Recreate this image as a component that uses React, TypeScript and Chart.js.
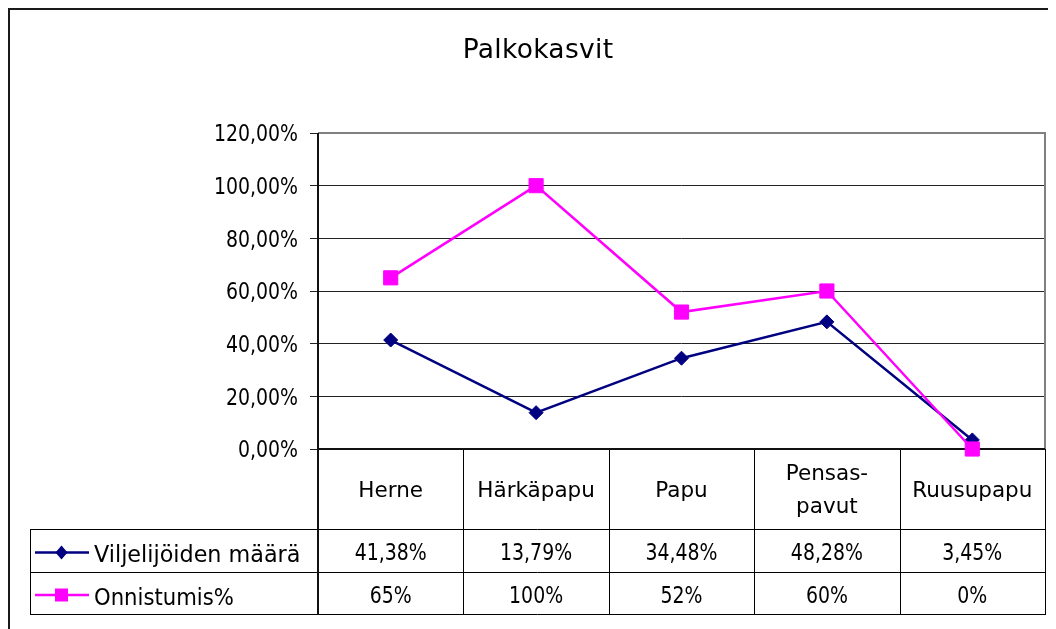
import React, { useEffect, useRef } from 'react';
import { Chart, registerables } from 'chart.js';

Chart.register(...registerables);

const chartTitle = 'Palkokasvit';
const categories: string[][] = [['Herne'], ['Härkäpapu'], ['Papu'], ['Pensas-', 'pavut'], ['Ruusupapu']];
const seriesNames = ['Viljelijöiden määrä', 'Onnistumis%'];
const viljelijat = [41.38, 13.79, 34.48, 48.28, 3.45];
const onnistumis = [65, 100, 52, 60, 0];
const yMin = 0;
const yMax = 120;
const yStep = 20;

const NAVY = '#000080';
const MAGENTA = '#FF00FF';
const FONT = '"DejaVu Sans", sans-serif';
const DIGIT_SX = 0.84;

const fmt2 = (v: number) => v.toFixed(2).replace('.', ',') + '%';
const fmt0 = (v: number) => Math.round(v) + '%';

function drawText(
  ctx: CanvasRenderingContext2D,
  text: string,
  x: number,
  y: number,
  size: number,
  align: CanvasTextAlign,
  sx = 1,
  spacing = 0
) {
  ctx.save();
  ctx.font = `${size}px ${FONT}`;
  (ctx as any).letterSpacing = spacing + 'px';
  ctx.textAlign = align;
  ctx.textBaseline = 'alphabetic';
  ctx.fillStyle = '#000';
  ctx.translate(x, y);
  ctx.scale(sx, 1);
  ctx.fillText(text, 0, 0);
  ctx.restore();
}

function drawDiamond(ctx: CanvasRenderingContext2D, x: number, y: number, w: number, h: number, color: string) {
  ctx.fillStyle = color;
  ctx.beginPath();
  ctx.moveTo(x, y - h / 2);
  ctx.lineTo(x + w / 2, y);
  ctx.lineTo(x, y + h / 2);
  ctx.lineTo(x - w / 2, y);
  ctx.closePath();
  ctx.fill();
}

const tablePlugin = {
  id: 'excelTable',
  beforeDatasetsDraw(chart: any) {
    const ctx: CanvasRenderingContext2D = chart.ctx;
    const ca = chart.chartArea;
    const xs = chart.scales.x;
    const ys = chart.scales.y;
    const L = ca.left, R = ca.right, T = ca.top, B = ca.bottom;
    const step = xs.getPixelForValue(1) - xs.getPixelForValue(0);
    const catBottom = B + 79.5;
    const row1Bottom = B + 122.5;
    const row2Bottom = B + 165;
    const legendLeft = 22;

    ctx.save();
    // outer chart border (left & top visible)
    ctx.strokeStyle = '#1a1a1a';
    ctx.lineWidth = 2;
    ctx.beginPath();
    ctx.moveTo(1, chart.height);
    ctx.lineTo(1, 1);
    ctx.lineTo(chart.width, 1);
    ctx.stroke();

    // plot area border top/right (gray)
    ctx.strokeStyle = '#808080';
    ctx.lineWidth = 2;
    ctx.beginPath();
    ctx.moveTo(L, T);
    ctx.lineTo(R, T);
    ctx.lineTo(R, B);
    ctx.stroke();

    // table lines
    ctx.strokeStyle = '#000';
    ctx.lineWidth = 1;
    ctx.beginPath();
    [catBottom, row1Bottom, row2Bottom].forEach((y) => {
      const yy = Math.round(y) + 0.5;
      ctx.moveTo(legendLeft, yy);
      ctx.lineTo(R, yy);
    });
    ctx.moveTo(legendLeft + 0.5, Math.round(catBottom));
    ctx.lineTo(legendLeft + 0.5, Math.round(row2Bottom) + 1);
    for (let k = 1; k <= categories.length; k++) {
      const x = Math.round(L + k * step) + 0.5;
      ctx.moveTo(x, B);
      ctx.lineTo(x, Math.round(row2Bottom) + 1);
    }
    ctx.stroke();

    // axis lines
    ctx.strokeStyle = '#111';
    ctx.lineWidth = 2;
    ctx.beginPath();
    ctx.moveTo(L, T);
    ctx.lineTo(L, Math.round(row2Bottom) + 1);
    ctx.moveTo(L, B);
    ctx.lineTo(R, B);
    ctx.stroke();
    ctx.restore();

    // y tick labels
    ys.ticks.forEach((t: any) => {
      const y = ys.getPixelForValue(t.value);
      drawText(ctx, fmt2(t.value), 290, y + 8.3, 22.5, 'right', DIGIT_SX);
    });

    // title
    drawText(ctx, chartTitle, 530, 50, 26.5, 'center', 1, 0.3);

    // category labels
    categories.forEach((lines, i) => {
      const cx = xs.getPixelForValue(i);
      if (lines.length === 1) {
        drawText(ctx, lines[0], cx, B + 48.3, 21.5, 'center');
      } else {
        drawText(ctx, lines[0], cx, B + 30.5, 21.5, 'center');
        drawText(ctx, lines[1], cx, B + 64, 21.5, 'center');
      }
    });

    // values
    viljelijat.forEach((v, i) => {
      drawText(ctx, fmt2(v), xs.getPixelForValue(i), B + 111, 22.5, 'center', DIGIT_SX);
    });
    onnistumis.forEach((v, i) => {
      drawText(ctx, fmt0(v), xs.getPixelForValue(i), B + 154, 22.5, 'center', DIGIT_SX);
    });

    // legend keys
    ctx.save();
    const keyX0 = 27, keyX1 = 81, keyC = 53.5;
    const y1 = B + 103.5, y2 = B + 146;
    ctx.lineWidth = 2.5;
    ctx.strokeStyle = NAVY;
    ctx.beginPath();
    ctx.moveTo(keyX0, y1);
    ctx.lineTo(keyX1, y1);
    ctx.stroke();
    drawDiamond(ctx, keyC, y1, 12, 14, NAVY);
    ctx.strokeStyle = MAGENTA;
    ctx.beginPath();
    ctx.moveTo(keyX0, y2);
    ctx.lineTo(keyX1, y2);
    ctx.stroke();
    ctx.fillStyle = MAGENTA;
    ctx.fillRect(keyC - 6.5, y2 - 6.5, 13, 13);
    ctx.restore();

    drawText(ctx, seriesNames[0], 86, B + 113, 22.3, 'left');
    drawText(ctx, seriesNames[1], 86, B + 155.5, 22.3, 'left', 0.95);
  },
};

export default function App() {
  const ref = useRef<HTMLCanvasElement>(null);

  useEffect(() => {
    if (!ref.current) return;
    const chart = new Chart(ref.current, {
      type: 'line',
      data: {
        labels: categories.map((c) => c.join(' ')),
        datasets: [
          {
            label: seriesNames[0],
            data: viljelijat,
            borderColor: NAVY,
            backgroundColor: NAVY,
            borderWidth: 2.5,
            pointStyle: 'rectRot',
            pointRadius: 7,
            pointBorderWidth: 1,
            pointBorderColor: NAVY,
            pointBackgroundColor: NAVY,
            tension: 0,
            clip: false as any,
            order: 1,
          },
          {
            label: seriesNames[1],
            data: onnistumis,
            borderColor: MAGENTA,
            backgroundColor: MAGENTA,
            borderWidth: 2.5,
            pointStyle: 'rect',
            pointRadius: 10,
            pointBorderWidth: 1,
            pointBorderColor: MAGENTA,
            pointBackgroundColor: MAGENTA,
            tension: 0,
            clip: false as any,
            order: 0,
          },
        ],
      },
      options: {
        responsive: false,
        animation: false,
        devicePixelRatio: 1,
        layout: { padding: { top: 125, right: 9, bottom: 180, left: 0 } },
        plugins: {
          legend: { display: false },
          title: { display: false },
          tooltip: { enabled: false },
        },
        events: [],
        scales: {
          x: {
            type: 'category',
            display: false,
            offset: true,
          },
          y: {
            min: yMin,
            max: yMax,
            afterFit: (scale: any) => {
              scale.width = 310;
            },
            border: { display: false },
            grid: {
              color: '#222',
              lineWidth: 1,
              tickLength: 8,
              drawTicks: true,
            },
            ticks: {
              display: false,
              stepSize: yStep,
              padding: 13,
            },
          },
        },
      },
      plugins: [tablePlugin],
    });
    return () => chart.destroy();
  }, []);

  return <canvas ref={ref} width={1048} height={621} style={{ display: 'block' }} />;
}
